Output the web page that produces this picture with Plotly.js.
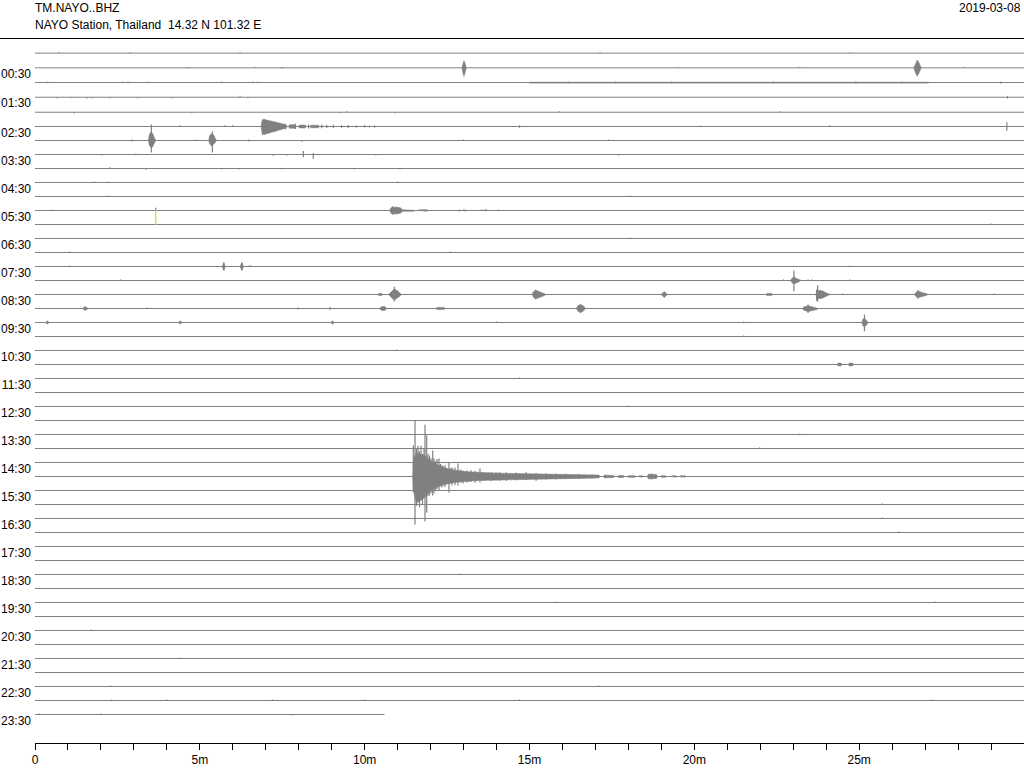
<!DOCTYPE html>
<html>
<head>
<meta charset="utf-8">
<script src="https://cdn.plot.ly/plotly-3.0.1.min.js"></script>
<style>html,body{margin:0;padding:0;background:#fff;}#chart{width:1024px;height:768px;}</style>
</head>
<body>
<div id="chart"></div>
<script>
// ---------------- DATA ----------------
const stationCode = "TM.NAYO..BHZ";
const stationInfo = "NAYO Station, Thailand \u00A014.32 N 101.32 E";
const dayLabel = "2019-03-08";

const hourLabels = ["00:30","01:30","02:30","03:30","04:30","05:30","06:30","07:30","08:30","09:30","10:30","11:30",
  "12:30","13:30","14:30","15:30","16:30","17:30","18:30","19:30","20:30","21:30","22:30","23:30"];
const labelRows = [1,3,5,7,9,11,13,15,17,19,21,23,25,27,29,31,33,35,37,39,41,43,45,47];

const tickMinutes = [0,1,2,3,4,5,6,7,8,9,10,11,12,13,14,15,16,17,18,19,20,21,22,23,24,25,26,27,28,29];
const tickText = ["0","","","","","5m","","","","","10m","","","","","15m","","","","","20m","","","","","25m","","","",""];

const rowCount = 48;          // 30-minute lines
const lineMinutes = 30;
const lastRowEnd = 10.6;      // last line stops early (minutes)
const rowDC = [-0.24,-0.19,-0.14,-0.09,-0.02]; // trace mean offsets (row units), rest 0

// envelopes: [minute, up, down] amplitude in row units
const envelopes = [
  {row:1, pts:[[12.95,0,0],[12.98,.3,.35],[13.01,.5,.6],[13.04,.35,.4],[13.08,0,0]]},
  {row:1, pts:[[26.66,0,0],[26.70,.25,.3],[26.76,.55,.6],[26.82,.35,.35],[26.88,0,0]]},
  {row:2, pts:[[15.0,.02,.04],[21.0,.02,.04],[21.0,0,0],[21.3,0,0],[21.3,.02,.04],[27.1,.02,.04]]},
  {row:5, pts:[[6.86,0,0],[6.89,.4,.45],[6.95,.5,.57],[7.05,.45,.5],[7.2,.4,.4],[7.35,.3,.3],[7.5,.2,.2],[7.6,.12,.12],[7.65,0,0]]},
  {row:5, pts:[[7.7,0,0],[7.72,.12,.12],[7.9,.12,.12],[7.92,0,0]]},
  {row:5, pts:[[8.0,0,0],[8.02,.1,.1],[8.2,.1,.1],[8.22,0,0]]},
  {row:5, pts:[[8.35,0,0],[8.37,.09,.09],[8.6,.09,.09],[8.62,0,0]]},
  {row:6, pts:[[3.44,0,0],[3.47,.45,.35],[3.52,.6,.5],[3.57,.5,.45],[3.62,.2,.2],[3.66,0,0]]},
  {row:6, pts:[[5.27,0,0],[5.30,.35,.25],[5.36,.5,.4],[5.42,.4,.3],[5.47,.15,.15],[5.5,0,0]]},
  {row:11, pts:[[10.76,0,0],[10.8,.2,.22],[10.95,.25,.25],[11.1,.18,.18],[11.14,.06,.06],[11.5,.05,.05],[11.52,0,0]]},
  {row:11, pts:[[11.62,0,0],[11.64,.05,.05],[11.9,.05,.05],[11.92,0,0]]},
  {row:15, pts:[[5.68,0,0],[5.72,.25,.25],[5.78,0,0]]},
  {row:15, pts:[[6.22,0,0],[6.27,.25,.25],[6.33,0,0]]},
  {row:16, pts:[[22.92,0,0],[22.96,.15,.15],[23.02,.25,.25],[23.1,.15,.15],[23.2,.06,.06],[23.22,0,0]]},
  {row:17, pts:[[10.4,0,0],[10.43,.08,.08],[10.52,.08,.08],[10.55,0,0]]},
  {row:17, pts:[[10.72,0,0],[10.76,.1,.1],[10.85,.3,.3],[10.9,.4,.4],[10.97,.3,.3],[11.05,.15,.15],[11.12,0,0]]},
  {row:17, pts:[[15.08,0,0],[15.12,.2,.2],[15.2,.3,.3],[15.3,.2,.2],[15.45,.08,.08],[15.5,0,0]]},
  {row:17, pts:[[19.0,0,0],[19.05,.15,.15],[19.1,.2,.2],[19.18,0,0]]},
  {row:17, pts:[[22.18,0,0],[22.2,.08,.08],[22.35,.08,.08],[22.37,0,0]]},
  {row:17, pts:[[23.68,0,0],[23.72,.2,.25],[23.78,.3,.3],[23.9,.25,.25],[24.0,.12,.12],[24.12,0,0]]},
  {row:17, pts:[[26.68,0,0],[26.72,.15,.15],[26.8,.25,.22],[26.9,.15,.15],[27.06,.05,.05],[27.08,0,0]]},
  {row:18, pts:[[1.45,0,0],[1.5,.12,.12],[1.56,.1,.1],[1.6,0,0]]},
  {row:18, pts:[[10.45,0,0],[10.5,.12,.12],[10.6,.15,.15],[10.68,0,0]]},
  {row:18, pts:[[12.15,0,0],[12.2,.08,.08],[12.4,.08,.08],[12.45,0,0]]},
  {row:18, pts:[[16.42,0,0],[16.47,.2,.2],[16.55,.3,.3],[16.65,.15,.15],[16.7,0,0]]},
  {row:18, pts:[[23.28,0,0],[23.32,.1,.12],[23.45,.2,.22],[23.55,.15,.15],[23.72,.07,.07],[23.76,0,0]]},
  {row:19, pts:[[0.33,0,0],[0.37,.12,.12],[0.43,0,0]]},
  {row:19, pts:[[4.35,0,0],[4.4,.12,.12],[4.46,0,0]]},
  {row:19, pts:[[8.98,0,0],[9.02,.12,.12],[9.08,0,0]]},
  {row:19, pts:[[25.08,0,0],[25.12,.25,.25],[25.17,.3,.3],[25.23,.15,.15],[25.27,0,0]]},
  {row:22, pts:[[24.33,0,0],[24.36,.1,.1],[24.45,.1,.1],[24.48,0,0]]},
  {row:22, pts:[[24.67,0,0],[24.7,.1,.1],[24.8,.1,.1],[24.83,0,0]]},
  {row:30, pts:[[11.46,0,0],[11.48,1.2,1.0],[11.56,1.7,1.8],[11.70,1.6,1.7],[11.82,1.5,1.5],[11.95,1.2,1.1],[12.10,1.0,0.9],
    [12.25,0.8,0.7],[12.45,0.6,0.55],[12.7,0.45,0.42],[13.0,0.35,0.35],[13.4,0.28,0.28],[13.9,0.24,0.24],[14.4,0.22,0.22],
    [15.0,0.2,0.2],[15.6,0.17,0.17],[16.4,0.14,0.14],[17.1,0.1,0.1],[17.15,0,0]]},
  {row:30, pts:[[17.25,0,0],[17.27,.09,.09],[17.55,.08,.08],[17.57,0,0]]},
  {row:30, pts:[[17.68,0,0],[17.7,.07,.07],[17.85,.07,.07],[17.87,0,0]]},
  {row:30, pts:[[17.98,0,0],[18.0,.06,.06],[18.2,.06,.06],[18.22,0,0]]},
  {row:30, pts:[[18.3,0,0],[18.32,.05,.05],[18.42,.05,.05],[18.44,0,0]]},
  {row:30, pts:[[18.58,0,0],[18.6,.16,.16],[18.85,.15,.15],[18.88,0,0]]},
  {row:30, pts:[[18.98,0,0],[19.0,.06,.06],[19.12,.06,.06],[19.14,0,0]]},
  {row:30, pts:[[19.3,0,0],[19.32,.05,.05],[19.45,.05,.05],[19.47,0,0]]},
  {row:30, pts:[[19.58,0,0],[19.6,.05,.05],[19.72,.05,.05],[19.74,0,0]]}
];

// peaks: [row, minute, up, down]
const peaks = [
  [30,11.475,2.21,1.12],[30,11.527,4.0,3.43],[30,11.572,2.0,2.1],[30,11.618,2.2,1.9],[30,11.663,1.8,2.2],[30,11.709,2.2,1.7],
  [30,11.754,1.6,2.0],[30,11.800,2.0,1.5],[30,11.830,3.7,3.21],[30,11.882,2.93,2.57],[30,11.921,1.6,1.4],[30,11.966,1.5,1.36],
  [30,12.012,1.3,1.2],[30,12.064,1.86,1.36],[30,12.103,1.3,1.2],[30,12.148,1.1,1.0],[30,12.194,1.25,0.9],[30,12.254,1.29,1.0],
  [30,12.300,0.9,0.7],[30,12.346,0.8,0.79],[30,12.391,0.7,0.6],[30,12.437,0.8,0.75],[30,12.482,0.6,0.55],[30,12.558,1.0,1.14],
  [30,12.604,0.6,0.5],[30,12.649,0.64,0.64],[30,12.695,0.5,0.45],[30,12.740,0.64,0.6],[30,12.785,0.45,0.4],[30,12.831,0.93,0.64],
  [30,12.877,0.45,0.4],[30,12.922,0.5,0.45],[30,12.983,0.43,0.5],[30,13.043,0.35,0.3],[30,13.104,0.43,0.45],[30,13.165,0.3,0.35],
  [30,13.225,0.45,0.4],[30,13.286,0.3,0.3],[30,13.347,0.4,0.45],[30,13.407,0.3,0.3],[30,13.498,0.57,0.43],[30,13.559,0.3,0.3],
  [30,13.620,0.29,0.29],[30,13.680,0.25,0.28],[30,13.741,0.3,0.25],[30,13.802,0.28,0.3],[30,13.862,0.3,0.3],[30,13.923,0.25,0.22],
  [30,13.984,0.3,0.29],[30,14.045,0.27,0.27],[30,14.105,0.3,0.3],[30,14.3,0.3,0.3],[30,14.6,0.28,0.26],[30,14.9,0.3,0.25],
  [30,15.2,0.25,0.3],[30,15.5,0.22,0.22],[30,15.8,0.2,0.2],[30,16.1,0.2,0.18],[30,16.5,0.18,0.16],[30,16.9,0.15,0.15],
  [30,17.3,0.12,0.12],[30,18.7,0.2,0.2],[30,19.6,0.08,0.08],
  [5,6.9,0.5,0.6],[5,6.95,0.55,0.57],[5,7.0,0.45,0.5],[5,7.1,0.4,0.45],[5,7.3,0.3,0.35],[5,7.6,0.2,0.2],[5,7.9,0.2,0.18],
  [5,8.3,0.15,0.15],[5,8.7,0.15,0.12],[5,8.85,0.1,0.1],[5,9.05,0.12,0.1],[5,9.3,0.1,0.1],[5,9.5,0.1,0.1],[5,9.75,0.08,0.08],
  [5,10.0,0.1,0.08],[5,10.15,0.08,0.08],[5,10.3,0.08,0.08],[5,29.48,0.3,0.3],
  [6,3.53,1.14,0.86],[6,5.38,0.64,0.86],
  [7,8.14,0.25,0.2],[7,8.44,0.1,0.3],
  [11,3.66,0.2,0],[11,10.85,0.3,0.3],[11,12.87,0.08,0.08],[11,13.05,0.08,0.08],[11,13.65,0.06,0.06],
  [15,5.73,0.3,0.3],[15,6.28,0.3,0.3],
  [16,23.02,0.71,0.76],
  [17,10.9,0.55,0.5],[17,15.18,0.35,0.35],[17,23.74,0.66,0.52],[17,23.71,0.35,0.45],[17,26.78,0.3,0.3],
  [18,23.45,0.29,0.33],
  [19,25.16,0.57,0.62]
];

// small noise ticks: [row, minute, up, down]
const ticks = [
  [0,0.73,.08,0],[0,2.88,.08,0],[0,6.22,.08,0],[0,17.14,.07,0],[0,24.72,.07,0],
  [1,4.64,0,.08],[1,6.67,.08,0],[1,7.49,0,.08],[1,23.2,.08,0],[1,28.2,.08,0],[1,19.5,.07,0],
  [2,0.39,.08,0],[2,2.67,.08,0],[2,2.82,.08,0],[2,3.4,.07,0],[2,5.67,.08,0],[2,6.61,.08,0],[2,6.76,.08,0],[2,29.3,.08,.08],
  [2,16.2,.07,.07],[2,17.6,.07,.07],[2,19.3,.07,.07],[2,22.4,.07,.07],[2,24.9,.07,.07],[2,26.3,.07,.07],
  [3,0.67,0,.08],[3,1.12,0,.08],[3,1.58,0,.1],[3,1.73,0,.08],[3,2.27,0,.08],[3,3.12,0,.08],[3,4.16,0,.08],[3,6.22,.1,0],[3,6.46,0,.08],[3,29.5,.1,.1],
  [4,1.18,0,.1],[4,4.76,0,.08],[4,9.25,0,.08],[4,9.46,.08,0],[4,10.92,0,.08],[4,15.9,.08,0],[4,22.6,.08,0],
  [5,4.4,.1,0],[5,5.76,.1,0],[5,6.0,.1,0],[5,14.7,.1,.1],[5,20.2,.08,0],[5,24.1,.1,0],
  [6,2.94,.08,.08],[6,4.88,.08,0],[6,6.49,.08,.08],[6,8.1,0,.1],[6,13.0,.08,0],[6,17.4,.08,0],
  [7,2.03,0,.08],[7,3.06,.08,0],[7,7.22,0,.1],[7,7.64,0,.08],[7,10.34,0,.08],[7,17.7,0,.08],
  [8,2.27,.1,0],[8,3.37,0,.1],[8,5.67,0,.08],[8,6.19,0,.08],[8,7.49,0,.08],[8,9.68,0,.08],[8,11.07,0,.08],
  [9,1.8,.08,0],[9,2.2,.08,0],[9,11.0,.08,0],
  [10,2.2,.08,0],[10,18.05,.08,0],
  [11,0.5,.08,0],[11,13.0,.08,0],[11,13.55,.08,0],[11,13.65,.08,0],[11,13.7,.08,0],[11,14.05,.08,0],
  [12,29.0,.08,0],
  [13,18.05,.08,0],
  [14,1.05,.08,0],[14,12.6,.08,0],
  [15,1.05,.08,0],[15,6.5,.08,0],[15,6.55,.08,0],[15,24.72,.08,0],
  [16,2.6,.08,0],[16,22.7,.08,0],[16,23.2,.08,0],[16,23.45,.08,0],[16,23.57,.08,0],[16,24.72,.08,0],
  [17,24.5,.08,0],[17,29.1,.08,0],
  [18,7.98,.08,.08],[18,8.95,.12,.12],[18,3.4,.08,0],
  [19,14.0,.08,0],[19,21.5,.08,0],
  [20,21.5,.08,0],
  [21,10.98,.08,0],
  [23,14.7,.08,0],
  [25,18.0,.08,0],
  [27,23.2,.08,0],
  [28,21.98,.08,0],
  [32,25.7,.08,0],
  [33,25.7,.08,0],
  [34,26.2,.08,0],
  [37,12.9,.08,0],
  [39,15.8,.08,0],[39,27.3,.08,0],
  [41,1.7,.08,0],
  [43,4.4,.08,0],
  [45,2.3,.08,0],[45,17.1,.08,0],
  [46,2.33,.08,0],[46,4.0,.08,0],[46,7.2,.08,0],[46,10.0,.08,0],[46,14.7,.08,0],[46,27.2,.08,0],
  [47,0.12,.08,0],[47,2.0,.08,0],[47,7.8,0,.08]
];

// anomalous (clipped) segment shown in yellow: [row, minute, down]
const flagged = [[11,3.66,1.0]];

// ---------------- BUILD ----------------
const GREY = "#808080";
function base(r){ return r + (rowDC[r] || 0); }

const traces = [];

// baselines
const bx = [], by = [];
for (let r = 0; r < rowCount; r++) {
  const end = (r === rowCount - 1) ? lastRowEnd : lineMinutes;
  bx.push(0, end, null); by.push(base(r), base(r), null);
}
traces.push({type:"scatter", mode:"lines", x:bx, y:by, line:{color:GREY, width:1}, hoverinfo:"skip", showlegend:false});

// envelopes
envelopes.forEach(ev => {
  const b = base(ev.row);
  const xs = [], ys = [];
  ev.pts.forEach(p => { xs.push(p[0]); ys.push(b - p[1]); });
  for (let i = ev.pts.length - 1; i >= 0; i--) { xs.push(ev.pts[i][0]); ys.push(b + ev.pts[i][2]); }
  traces.push({type:"scatter", mode:"lines", x:xs, y:ys, fill:"toself", fillcolor:GREY,
    line:{color:GREY, width:0.6}, hoverinfo:"skip", showlegend:false});
});

// peaks + ticks as vertical strokes
function strokes(list, w){
  const xs = [], ys = [];
  list.forEach(p => { const b = base(p[0]); xs.push(p[1], p[1], null); ys.push(b - p[2], b + p[3], null); });
  traces.push({type:"scatter", mode:"lines", x:xs, y:ys, line:{color:GREY, width:w}, hoverinfo:"skip", showlegend:false});
}
strokes(peaks, 1.2);
strokes(ticks, 1);

// flagged
{
  const xs = [], ys = [];
  flagged.forEach(p => { const b = base(p[0]); xs.push(p[1], p[1], null); ys.push(b, b + p[2], null); });
  traces.push({type:"scatter", mode:"lines", x:xs, y:ys, line:{color:"#e4dc6a", width:1.6}, hoverinfo:"skip", showlegend:false});
}

const plotTop = 38, plotBottom = 25, rowPx = 14, firstRowPx = 56.5;
const H = 768 - plotTop - plotBottom;
const yTopVal = (plotTop - firstRowPx) / rowPx;
const yBotVal = (768 - plotBottom - firstRowPx) / rowPx;

const layout = {
  width:1024, height:768,
  margin:{l:35, r:0, t:plotTop, b:plotBottom, pad:0},
  paper_bgcolor:"#fff", plot_bgcolor:"#fff",
  font:{family:"Liberation Sans, Arial, sans-serif", size:12, color:"#000"},
  showlegend:false,
  xaxis:{range:[0, lineMinutes], tickvals:tickMinutes, ticktext:tickText, ticks:"outside", ticklen:6,
    tickwidth:1, tickcolor:"#000", showline:true, linecolor:"#000", linewidth:1, showgrid:false, zeroline:false,
    fixedrange:true, tickfont:{size:12, color:"#000"}},
  yaxis:{range:[yBotVal, yTopVal], tickvals:labelRows.map(r => base(r) + 0.43), ticktext:hourLabels, ticks:"",
    showline:false, showgrid:false, zeroline:false, fixedrange:true, ticklabelstandoff:3,
    tickfont:{size:12, color:"#000"}},
  shapes:[{type:"line", xref:"paper", yref:"paper", x0:-35/989, x1:1, y0:1 - 0.5/H, y1:1 - 0.5/H,
    line:{color:"#000", width:1}}],
  annotations:[
    {xref:"paper", yref:"paper", x:0, y:1, xanchor:"left", yanchor:"middle", yshift:30, xshift:-2, showarrow:false,
      text:stationCode, font:{size:12, color:"#000"}},
    {xref:"paper", yref:"paper", x:0, y:1, xanchor:"left", yanchor:"middle", yshift:13, xshift:-2, showarrow:false,
      text:stationInfo, font:{size:12, color:"#000"}},
    {xref:"paper", yref:"paper", x:1, y:1, xanchor:"right", yanchor:"middle", yshift:30, xshift:-1, showarrow:false,
      text:dayLabel, font:{size:12, color:"#000"}}
  ]
};

Plotly.newPlot("chart", traces, layout, {displayModeBar:false, staticPlot:true});
</script>
</body>
</html>
